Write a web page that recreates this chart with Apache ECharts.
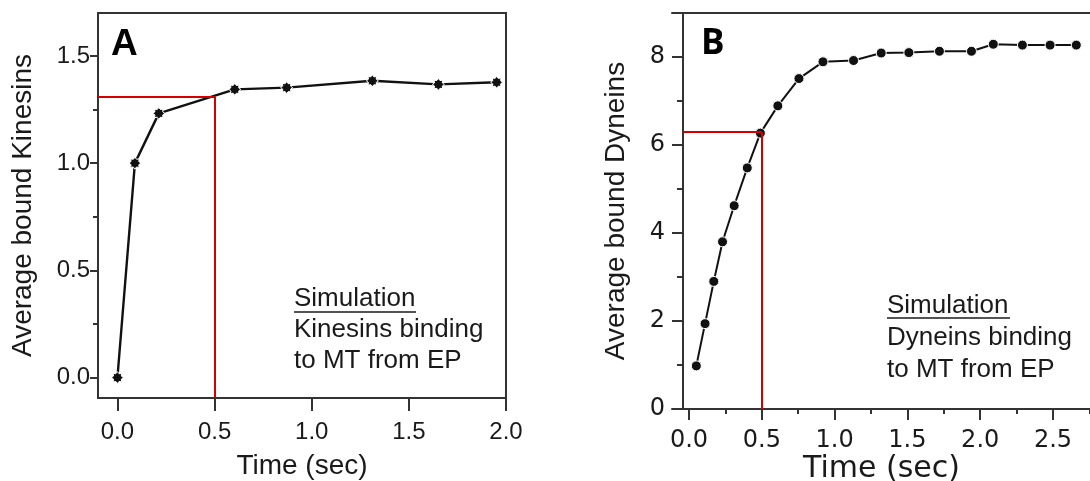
<!DOCTYPE html>
<html>
<head>
<meta charset="utf-8">
<script src="https://cdn.jsdelivr.net/npm/echarts@6/dist/echarts.min.js"></script>
<style>
html,body{margin:0;padding:0;background:#fff;}
#chart{width:1090px;height:481px;}
</style>
</head>
<body>
<div id="chart"></div>
<script>
// ---- Panel A: kinesins ----
const kinTime  = [0, 0.09, 0.213, 0.604, 0.871, 1.312, 1.652, 1.952];
const kinBound = [0, 1.0, 1.232, 1.344, 1.352, 1.384, 1.367, 1.377];
const kinRef = [0.5, 1.31];            // red guide lines (time, bound)
const kinXTicks = [0, 0.5, 1.0, 1.5, 2.0];
const kinYTicks = [0, 0.5, 1.0, 1.5];
const kinYMinor = [0.25, 0.75, 1.25];

// ---- Panel B: dyneins ----
const dynTime  = [0.05, 0.11, 0.17, 0.23, 0.31, 0.40, 0.49, 0.61, 0.755, 0.92, 1.13, 1.32, 1.51, 1.72, 1.94, 2.09, 2.29, 2.48, 2.66];
const dynBound = [0.98, 1.94, 2.90, 3.80, 4.62, 5.48, 6.27, 6.89, 7.51, 7.89, 7.92, 8.09, 8.10, 8.13, 8.13, 8.29, 8.27, 8.27, 8.27];
const dynRef = [0.5, 6.29];
const dynXTicks = [0, 0.5, 1.0, 1.5, 2.0, 2.5];
const dynXMinor = [0.25, 0.75, 1.25, 1.75, 2.25, 2.75];
const dynYTicks = [0, 2, 4, 6, 8];
const dynYMinor = [1, 3, 5, 7];

const xTitle = 'Time (sec)';
const kinYTitle = 'Average bound Kinesins';
const dynYTitle = 'Average bound Dyneins';
const kinNote = ['Simulation', 'Kinesins binding', 'to MT from EP'];
const dynNote = ['Simulation', 'Dyneins binding', 'to MT from EP'];

const AX = '#333';
const TXT = '#1a1a1a';
const RED = '#d40000';
const FA = 'Liberation Sans';
const FB = 'DejaVu Sans';

const starPath = 'path://M100,50 L82.3,63.4 L85.4,85.4 L63.4,82.3 L50,100 L36.6,82.3 L14.6,85.4 L17.7,63.4 L0,50 L17.7,36.6 L14.6,14.6 L36.6,17.7 L50,0 L63.4,17.7 L85.4,14.6 L82.3,36.6 Z';

const xMinA = -0.1, xMaxA = 2.0, yMinA = -0.095, yMaxA = 1.7;
const xMinB = -0.117, xMaxB = 2.761, yMinB = 0, yMaxB = 9;
const yAxisPosB = -0.04;

const chart = echarts.init(document.getElementById('chart'), null, {renderer: 'canvas'});

const option = {
  animation: false,
  backgroundColor: '#fff',
  grid: [
    {left: 98, top: 13, width: 408, height: 385, show: true, borderColor: AX, borderWidth: 2, containLabel: false, outerBoundsMode: 'none'},
    {left: 672, top: 13, width: 419, height: 396, show: false, containLabel: false, outerBoundsMode: 'none'}
  ],
  xAxis: [
    { // A main
      gridIndex: 0, type: 'value', min: xMinA, max: xMaxA, position: 'bottom',
      axisLine: {show: true, onZero: false, lineStyle: {color: AX, width: 2}},
      axisTick: {show: true, customValues: kinXTicks, length: 13, lineStyle: {color: AX, width: 2}},
      axisLabel: {customValues: kinXTicks, formatter: v => v.toFixed(1), margin: 22, fontSize: 24, fontFamily: FA, color: TXT},
      splitLine: {show: false},
      name: xTitle, nameLocation: 'middle', nameGap: 54, nameMoveOverlap: false,
      nameTextStyle: {fontSize: 28, fontFamily: FA, color: TXT}
    },
    { // B main
      gridIndex: 1, type: 'value', min: xMinB, max: xMaxB, position: 'bottom',
      axisLine: {show: true, onZero: false, lineStyle: {color: AX, width: 2}},
      axisTick: {show: true, customValues: dynXTicks, length: 11, lineStyle: {color: AX, width: 2}},
      axisLabel: {customValues: dynXTicks, formatter: v => v.toFixed(1), margin: 20, fontSize: 24, fontFamily: FB, color: TXT},
      splitLine: {show: false},
      name: xTitle, nameLocation: 'middle', nameGap: 45, nameMoveOverlap: false,
      nameTextStyle: {fontSize: 30, fontFamily: FB, color: TXT}
    },
    { // B minor ticks
      gridIndex: 1, type: 'value', min: xMinB, max: xMaxB, position: 'bottom',
      axisLine: {show: false, onZero: false},
      axisTick: {show: true, customValues: dynXMinor, length: 5, lineStyle: {color: AX, width: 2}},
      axisLabel: {show: false}, splitLine: {show: false}
    },
    { // B top frame
      gridIndex: 1, type: 'value', min: xMinB, max: xMaxB, position: 'top',
      axisLine: {show: true, onZero: false, lineStyle: {color: AX, width: 2}},
      axisTick: {show: false}, axisLabel: {show: false}, splitLine: {show: false}
    }
  ],
  yAxis: [
    { // A main
      gridIndex: 0, type: 'value', min: yMinA, max: yMaxA, position: 'left',
      axisLine: {show: true, onZero: false, lineStyle: {color: AX, width: 2}},
      axisTick: {show: true, customValues: kinYTicks, length: 8, lineStyle: {color: AX, width: 2}},
      axisLabel: {customValues: kinYTicks, formatter: v => v.toFixed(1), margin: 8, fontSize: 24, fontFamily: FA, color: TXT},
      splitLine: {show: false},
      name: kinYTitle, nameLocation: 'middle', nameGap: 61, nameRotate: 90, nameMoveOverlap: false,
      nameTextStyle: {fontSize: 28, fontFamily: FA, color: TXT}
    },
    { // A minor
      gridIndex: 0, type: 'value', min: yMinA, max: yMaxA, position: 'left',
      axisLine: {show: false, onZero: false},
      axisTick: {show: true, customValues: kinYMinor, length: 5, lineStyle: {color: AX, width: 2}},
      axisLabel: {show: false}, splitLine: {show: false}
    },
    { // B main
      gridIndex: 1, type: 'value', min: yMinB, max: yMaxB, position: 'left', offset: -11,
      axisLine: {show: true, onZero: false, lineStyle: {color: AX, width: 2}},
      axisTick: {show: true, customValues: dynYTicks, length: 11, lineStyle: {color: AX, width: 2}},
      axisLabel: {customValues: dynYTicks, formatter: v => String(v), margin: 18, fontSize: 24, fontFamily: FB, color: TXT},
      splitLine: {show: false},
      name: dynYTitle, nameLocation: 'middle', nameGap: 53, nameRotate: 90, nameMoveOverlap: false,
      nameTextStyle: {fontSize: 28, fontFamily: FA, color: TXT}
    },
    { // B minor
      gridIndex: 1, type: 'value', min: yMinB, max: yMaxB, position: 'left', offset: -11,
      axisLine: {show: false, onZero: false},
      axisTick: {show: true, customValues: dynYMinor, length: 6, lineStyle: {color: AX, width: 2}},
      axisLabel: {show: false}, splitLine: {show: false}
    }
  ],
  series: [
    {
      type: 'line', xAxisIndex: 0, yAxisIndex: 0,
      data: kinTime.map((t, i) => [t, kinBound[i]]),
      symbol: starPath, symbolSize: 12, showAllSymbol: true,
      lineStyle: {color: '#111', width: 2.4},
      itemStyle: {color: '#111', borderColor: '#fff', borderWidth: 1},
      z: 3,
      markLine: {
        silent: true, symbol: ['none', 'none'], animation: false,
        label: {show: false},
        lineStyle: {color: RED, width: 2, type: 'solid'},
        data: [
          [{coord: [xMinA, kinRef[1]]}, {coord: [kinRef[0], kinRef[1]]}],
          [{coord: [kinRef[0], kinRef[1]]}, {coord: [kinRef[0], yMinA]}]
        ]
      }
    },
    {
      type: 'line', xAxisIndex: 1, yAxisIndex: 2,
      data: dynTime.map((t, i) => [t, dynBound[i]]),
      symbol: 'circle', symbolSize: 10, showAllSymbol: true,
      lineStyle: {color: '#111', width: 2},
      itemStyle: {color: '#111', borderColor: '#fff', borderWidth: 1},
      z: 3,
      markLine: {
        silent: true, symbol: ['none', 'none'], animation: false,
        label: {show: false},
        lineStyle: {color: RED, width: 2, type: 'solid'},
        data: [
          [{coord: [yAxisPosB, dynRef[1]]}, {coord: [dynRef[0], dynRef[1]]}],
          [{coord: [dynRef[0], dynRef[1]]}, {coord: [dynRef[0], yMinB]}]
        ]
      }
    }
  ],
  graphic: [
    {type: 'text', silent: true, style: {text: 'A', x: 111, y: 45, verticalAlign: 'middle', font: 'bold 37px "Liberation Sans"', fill: '#000'}},
    {type: 'text', silent: true, style: {text: 'B', x: 701, y: 44, verticalAlign: 'middle', font: 'bold 35px "Open Sans"', fill: '#000'}},
    {type: 'text', silent: true, style: {text: kinNote.join('\n'), x: 294, y: 283.5, verticalAlign: 'top', lineHeight: 31, font: '26px "Liberation Sans"', fill: TXT}},
    {type: 'line', silent: true, shape: {x1: 294, y1: 312, x2: 416, y2: 312}, style: {stroke: TXT, lineWidth: 1.5}},
    {type: 'text', silent: true, style: {text: dynNote.join('\n'), x: 887, y: 289.5, verticalAlign: 'top', lineHeight: 32, font: '26px "Liberation Sans"', fill: TXT}},
    {type: 'line', silent: true, shape: {x1: 887, y1: 318, x2: 1010, y2: 318}, style: {stroke: TXT, lineWidth: 1.5}}
  ]
};
chart.setOption(option);
</script>
</body>
</html>
